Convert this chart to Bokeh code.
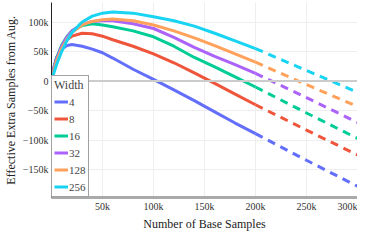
from bokeh.plotting import figure
from bokeh.models import Range1d, FixedTicker, Span, Legend, LegendItem
from bokeh.embed import file_html
from bokeh.resources import INLINE

# ---- data ----
x_solid = [0, 2500, 5000, 10000, 15000, 20000, 30000, 40000, 50000, 60000,
           80000, 100000, 120000, 140000, 160000, 180000, 200000]
x_dash = [200000, 250000, 300000]

widths = ["4", "8", "16", "32", "128", "256"]

w4_solid = [0, 25000, 40000, 54000, 60000, 62000, 59000, 54000, 48000, 39000,
            20000, 3000, -15000, -33000, -52000, -71000, -89000]
w4_dash = [-89000, -134000, -178000]

w8_solid = [0, 22000, 38000, 57000, 70000, 76000, 81000, 80000, 76000, 70000,
            59000, 46000, 31000, 14000, -4000, -22000, -40000]
w8_dash = [-40000, -83000, -125000]

w16_solid = [0, 22000, 39000, 61000, 75000, 85000, 94000, 97000, 95000, 92000,
             85000, 75000, 59000, 40000, 24000, 7000, -10000]
w16_dash = [-10000, -54000, -97000]

w32_solid = [0, 21000, 37000, 59000, 74000, 85000, 96000, 101000, 102000, 102000,
             97000, 89000, 74000, 57000, 42000, 28000, 13000]
w32_dash = [13000, -28000, -70000]

w128_solid = [0, 19000, 34000, 55000, 70000, 82000, 95000, 101000, 104000, 105000,
              102000, 95000, 85000, 73000, 60000, 46000, 32000]
w128_dash = [32000, -6000, -43000]

w256_solid = [0, 15000, 28000, 50000, 68000, 82000, 100000, 110000, 115000, 117000,
              115000, 109000, 102000, 93000, 81000, 68000, 55000]
w256_dash = [55000, 18000, -19000]

colors = ["#636EFA", "#EF553B", "#00CC96", "#AB63FA", "#FFA15A", "#19D3F3"]

x_ticks = [50000, 100000, 150000, 200000, 250000, 300000]
x_tick_labels = ["50k", "100k", "150k", "200k", "250k", "300k"]
y_ticks = [100000, 50000, 0, -50000, -100000, -150000]
y_tick_labels = ["100k", "50k", "0", "\u221250k", "\u2212100k", "\u2212150k"]

series = [(w4_solid, w4_dash), (w8_solid, w8_dash), (w16_solid, w16_dash),
          (w32_solid, w32_dash), (w128_solid, w128_dash), (w256_solid, w256_dash)]

FONT = "'Liberation Serif', serif"

p = figure(width=357, height=233, output_backend="svg", toolbar_location=None,
           x_range=Range1d(0, 300000), y_range=Range1d(-197000, 133000),
           min_border_left=0, min_border_right=0, min_border_top=2, min_border_bottom=0)
p.outline_line_color = None
p.background_fill_color = "white"

# grid
p.xgrid.ticker = FixedTicker(ticks=x_ticks)
p.ygrid.ticker = FixedTicker(ticks=y_ticks)
p.xgrid.grid_line_color = "#eeeeee"
p.ygrid.grid_line_color = "#eeeeee"
p.add_layout(Span(location=0, dimension="width", line_color="#cccccc", line_width=2))

# axes
p.xaxis.ticker = FixedTicker(ticks=x_ticks)
p.yaxis.ticker = FixedTicker(ticks=y_ticks)
p.xaxis.major_label_overrides = {t: l for t, l in zip(x_ticks, x_tick_labels)}
p.yaxis.major_label_overrides = {t: l for t, l in zip(y_ticks, y_tick_labels)}
for ax in (p.xaxis[0], p.yaxis[0]):
    ax.major_tick_line_color = None
    ax.minor_tick_line_color = None
    ax.major_tick_out = 0
    ax.major_tick_in = 0
    ax.major_label_text_font = FONT
    ax.major_label_text_font_size = "10px"
    ax.major_label_text_color = "#333333"
    ax.axis_label_text_font = FONT
    ax.axis_label_text_font_size = "12px"
    ax.axis_label_text_font_style = "normal"
    ax.axis_label_text_color = "#222222"
    ax.major_label_standoff = 3
    ax.axis_label_standoff = 2
p.xaxis.axis_label = "Number of Base Samples"
p.yaxis.axis_label = "Effective Extra Samples from Aug."
p.xaxis.axis_line_color = "#aaaaaa"
p.xaxis.axis_line_width = 3
p.yaxis.axis_line_color = "#222222"
p.yaxis.axis_line_width = 1

items = []
for name, (ys, yd), c in zip(widths, series, colors):
    r = p.line(x_solid, ys, line_color=c, line_width=3)
    p.line(x_dash, yd, line_color=c, line_width=3, line_dash="8 6")
    items.append(LegendItem(label=name, renderers=[r]))

legend = Legend(items=items, location="bottom_left")
legend.title = "Width"
legend.title_text_font = FONT
legend.title_text_font_size = "12px"
legend.title_text_font_style = "normal"
legend.title_standoff = 1
legend.label_text_font = FONT
legend.label_text_font_size = "11px"
legend.label_standoff = 1
legend.glyph_width = 14
legend.glyph_height = 15
legend.label_height = 15
legend.label_width = 10
legend.spacing = 2
legend.padding = 2
legend.margin = 0
legend.border_line_color = "#444444"
legend.border_line_width = 1
legend.background_fill_color = "white"
legend.background_fill_alpha = 1.0
p.add_layout(legend)

open("out.html", "w").write(file_html(p, INLINE))
